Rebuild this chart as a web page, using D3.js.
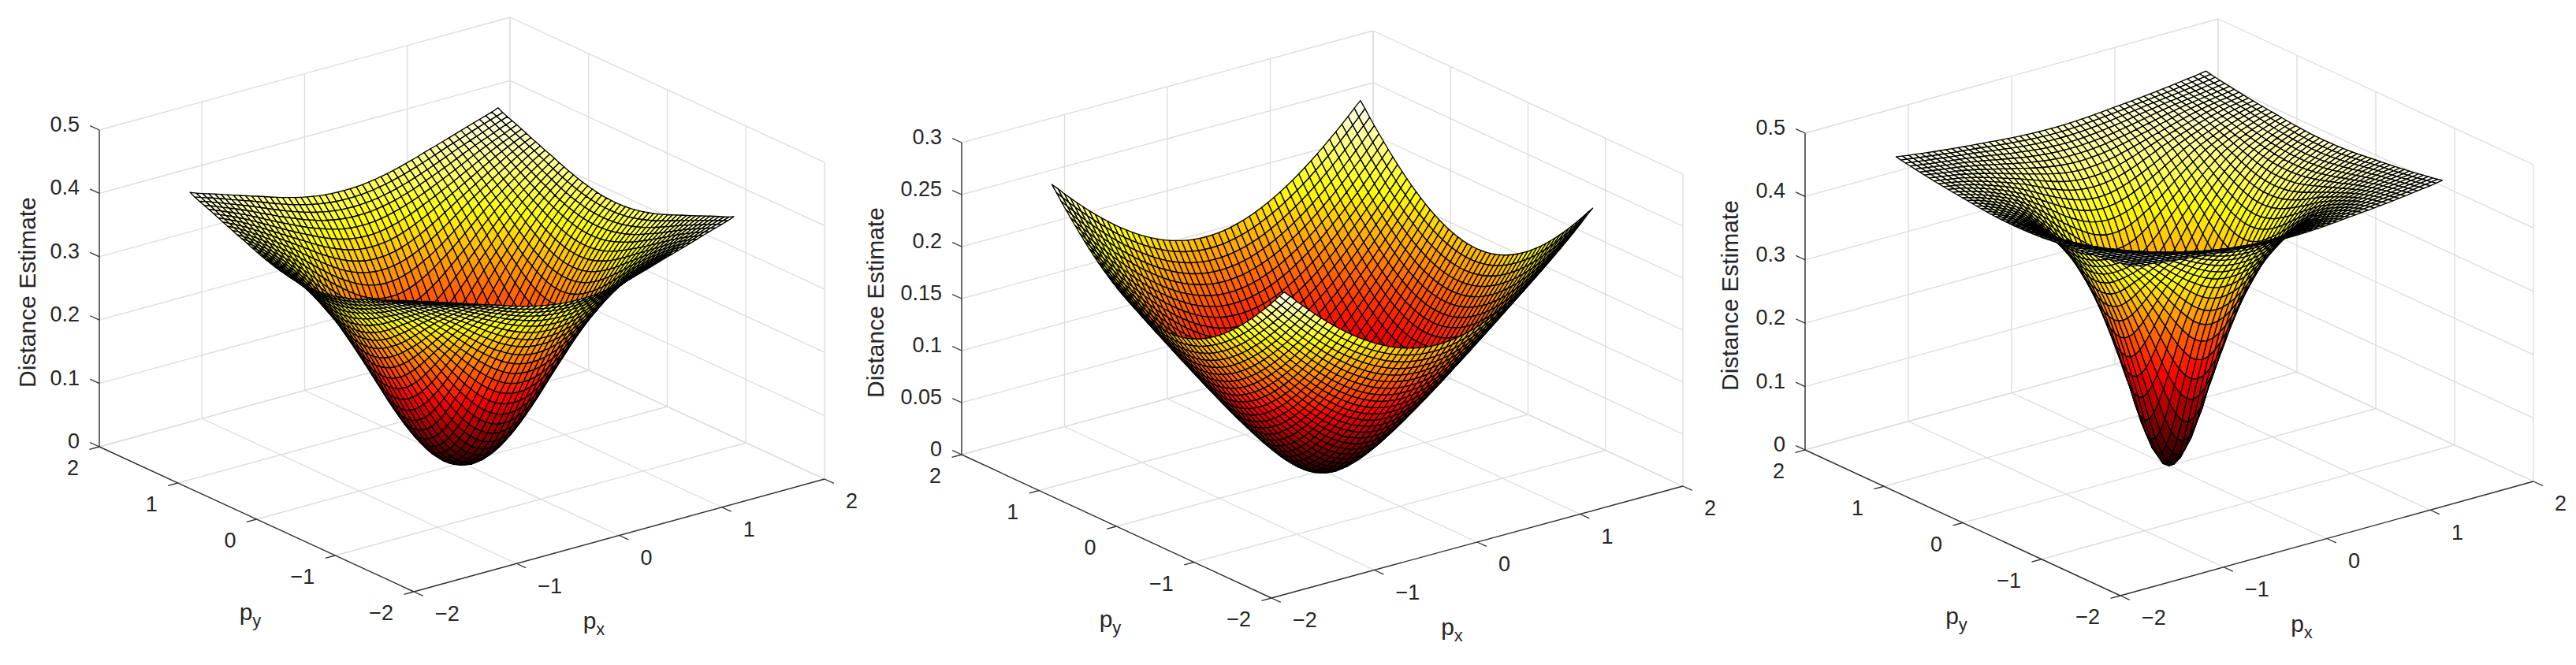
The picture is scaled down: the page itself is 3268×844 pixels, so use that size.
<!DOCTYPE html>
<html><head><meta charset="utf-8">
<style>html,body{margin:0;padding:0;background:#fff}svg{display:block}text{font-family:"Liberation Sans",Arial,sans-serif;fill:#262626}</style>
<script src="https://cdn.jsdelivr.net/npm/d3@7"></script>
</head><body><svg id="c" width="3268" height="844"></svg>
<script>
// Values, in 1/10000 of the z unit, on the 51x51 mesh (-1.5..1.5).
// The three surfaces look symmetric about both axes and both diagonals, so each table holds one octant:
// row j = larger of |i|,|j|, col = smaller, counted in mesh steps from the centre.
const surfaceA=[
[0],[13,28],[50,65,102],[113,127,166,226],[200,213,252,310,399],[310,324,363,422,503,602],
[445,457,491,548,626,728,848],[590,602,638,695,771,868,982,1111],[760,771,805,857,929,1022,1130,1256,1392],
[940,951,982,1033,1102,1190,1294,1410,1538,1672],[1130,1140,1170,1218,1284,1366,1462,1571,1688,1813,1947],
[1330,1340,1366,1410,1470,1546,1633,1733,1842,1960,2085,2211],[1530,1538,1563,1602,1657,1725,1807,1899,2000,2110,2222,2338,2455],
[1725,1733,1754,1791,1842,1906,1981,2064,2157,2256,2358,2465,2564,2667],
[1920,1928,1947,1981,2026,2085,2151,2227,2310,2399,2490,2580,2672,2774,2872],
[2110,2115,2133,2164,2204,2256,2317,2384,2460,2534,2614,2700,2789,2879,2967,3055],
[2290,2295,2310,2338,2373,2419,2474,2529,2594,2664,2741,2819,2900,2980,3061,3142,3215],
[2460,2465,2478,2499,2529,2568,2614,2667,2729,2793,2861,2932,3005,3078,3152,3219,3286,3353],
[2610,2614,2626,2647,2676,2712,2755,2803,2858,2915,2977,3042,3105,3171,3232,3294,3356,3419,3479],
[2760,2764,2774,2793,2819,2852,2889,2932,2980,3032,3086,3144,3199,3255,3311,3369,3425,3482,3540,3595],
[2900,2902,2913,2928,2952,2980,3015,3053,3094,3142,3188,3235,3284,3335,3387,3440,3492,3545,3598,3649,3700],
[3030,3032,3042,3055,3076,3102,3131,3165,3199,3237,3280,3322,3369,3413,3461,3509,3557,3607,3655,3702,3745,3788],
[3150,3152,3159,3171,3188,3209,3232,3262,3293,3327,3367,3408,3445,3487,3531,3575,3620,3665,3708,3750,3790,3828,3866],
[3253,3255,3262,3272,3286,3306,3327,3353,3381,3413,3447,3483,3520,3559,3599,3640,3681,3722,3758,3795,3831,3868,3906,3942],
[3350,3352,3356,3367,3379,3397,3416,3440,3466,3493,3525,3557,3591,3627,3663,3700,3739,3770,3805,3839,3874,3909,3943,3975,4007],
[3440,3442,3447,3455,3467,3483,3501,3522,3545,3571,3599,3628,3660,3693,3725,3754,3786,3818,3850,3882,3916,3947,3978,4008,4040,4080]];
const surfaceB=[
[0],[7,15],[26,34,53],[58,65,84,112],[100,106,124,150,188],[150,156,172,197,232,275],
[207,212,227,252,284,324,372],[270,275,289,312,341,380,424,474],[337,341,355,375,404,440,482,530,582],
[408,412,424,444,471,505,544,589,638,693],[482,486,497,515,540,572,609,652,700,751,807],
[558,562,572,589,612,641,677,718,764,813,866,923],[635,638,649,665,687,715,749,787,830,877,928,983,1040],
[715,718,727,742,764,790,822,858,899,944,993,1045,1102,1160],
[796,799,807,822,841,866,896,931,970,1013,1060,1111,1165,1220,1280],
[877,879,888,902,920,944,973,1006,1043,1085,1131,1178,1230,1284,1342,1401],
[960,962,970,983,1001,1023,1051,1082,1119,1159,1201,1248,1297,1350,1405,1463,1523],
[1043,1045,1053,1065,1082,1104,1131,1160,1194,1232,1273,1318,1367,1417,1471,1527,1585,1645],
[1128,1131,1137,1149,1165,1185,1209,1238,1271,1307,1348,1392,1437,1486,1538,1592,1649,1708,1769],
[1212,1215,1220,1232,1248,1267,1290,1318,1350,1385,1423,1465,1509,1557,1607,1660,1715,1773,1831,1892],
[1297,1299,1306,1316,1331,1350,1373,1399,1429,1463,1500,1540,1583,1629,1678,1729,1782,1838,1895,1954,2015],
[1383,1385,1392,1401,1416,1434,1455,1481,1509,1542,1578,1617,1659,1703,1750,1799,1851,1905,1960,2018,2078,2140],
[1469,1471,1477,1486,1500,1517,1538,1563,1591,1622,1657,1694,1734,1777,1823,1871,1920,1973,2028,2084,2142,2202,2264],
[1555,1557,1563,1572,1585,1602,1622,1645,1672,1703,1736,1773,1811,1853,1897,1943,1992,2043,2096,2151,2208,2266,2327,2389],
[1642,1644,1649,1659,1671,1687,1706,1729,1755,1784,1816,1851,1888,1928,1971,2016,2064,2114,2166,2220,2275,2332,2391,2451,2513],
[1729,1731,1736,1745,1757,1773,1791,1813,1838,1866,1897,1930,1967,2006,2047,2091,2138,2186,2237,2289,2344,2399,2456,2515,2578,2635]];
const surfaceC=[
[0],[60,134],[240,302,456],[500,553,701,924],[830,877,1013,1220,1458],[1220,1256,1360,1519,1716,1943],
[1580,1607,1689,1821,1989,2187,2397],[1920,1943,2012,2125,2268,2430,2607,2784],[2250,2268,2325,2412,2532,2662,2810,2955,3105],
[2550,2566,2607,2677,2771,2879,2999,3124,3257,3381],[2810,2822,2856,2911,2987,3078,3179,3288,3396,3498,3600],
[3040,3051,3078,3124,3187,3264,3345,3436,3520,3609,3702,3793],[3250,3257,3281,3317,3367,3430,3493,3564,3639,3720,3801,3881,3957],
[3430,3436,3453,3481,3520,3570,3625,3686,3754,3825,3894,3963,4029,4094],
[3580,3586,3600,3625,3658,3702,3750,3805,3863,3920,3982,4040,4100,4157,4206],
[3720,3724,3737,3759,3788,3825,3868,3912,3960,4009,4063,4114,4165,4210,4251,4293],
[3850,3853,3863,3881,3904,3934,3969,4006,4049,4096,4138,4188,4220,4257,4295,4327,4362],
[3960,3963,3972,3986,4006,4032,4063,4094,4131,4167,4200,4235,4269,4300,4331,4364,4394,4422],
[4060,4063,4070,4083,4100,4121,4147,4172,4199,4227,4255,4286,4312,4340,4370,4397,4423,4450,4474],
[4150,4152,4157,4167,4179,4196,4214,4235,4257,4281,4309,4328,4354,4381,4404,4428,4454,4475,4495,4516],
[4220,4221,4226,4233,4244,4257,4273,4290,4307,4327,4348,4372,4393,4414,4436,4460,4478,4498,4517,4532,4546],
[4280,4281,4285,4291,4299,4310,4322,4337,4354,4373,4390,4408,4428,4448,4467,4484,4502,4520,4533,4546,4560,4574],
[4330,4331,4335,4340,4348,4358,4370,4384,4396,4411,4427,4444,4462,4477,4492,4509,4524,4536,4549,4561,4575,4588,4602],
[4380,4381,4384,4388,4394,4402,4411,4422,4434,4448,4462,4475,4488,4503,4518,4529,4540,4552,4564,4577,4590,4603,4617,4631],
[4420,4421,4423,4428,4433,4441,4450,4460,4469,4479,4490,4502,4515,4526,4536,4546,4557,4568,4580,4592,4605,4618,4631,4645,4659],
[4460,4461,4462,4465,4470,4475,4481,4489,4498,4507,4518,4526,4535,4544,4553,4563,4574,4585,4596,4608,4620,4633,4646,4659,4673,4690]];

const xyTicks=[-2,-1,0,1,2];
const xyTickLabels=["\u22122","\u22121","0","1","2"];
const zTicksA=[0,0.1,0.2,0.3,0.4,0.5];
const zTicksB=[0,0.05,0.1,0.15,0.2,0.25,0.3];
const zLabelsA=["0","0.1","0.2","0.3","0.4","0.5"];
const zLabelsB=["0","0.05","0.1","0.15","0.2","0.25","0.3"];
const meshStep=0.06, halfCells=25;

const panels=[
 {table:surfaceA,zTicks:zTicksA,zLabels:zLabelsA,left:[126,567],front:[525,751],right:[1046,608],zTop:165,zLabelDx:-88},
 {table:surfaceB,zTicks:zTicksB,zLabels:zLabelsB,left:[1220,577],front:[1613,759],right:[2135,617],zTop:181,zLabelDx:-106},
 {table:surfaceC,zTicks:zTicksA,zLabels:zLabelsA,left:[2290,571],front:[2690,756],right:[3214,611],zTop:169,zLabelDx:-92}
];
const hot=d3.scaleLinear().domain([0,0.365,0.746,1]).range(["#0b0000","#ff0000","#ffff00","#ffffff"]).clamp(true);
const svg=d3.select("#c");
const tickFont=27, labelFont=30;

panels.forEach(P=>{
 const g=svg.append("g");
 const zMax=P.zTicks[P.zTicks.length-1];
 const xX=d3.scaleLinear([-2,2],[0,P.right[0]-P.front[0]]), xY=d3.scaleLinear([-2,2],[0,P.right[1]-P.front[1]]);
 const yX=d3.scaleLinear([-2,2],[0,P.left[0]-P.front[0]]), yY=d3.scaleLinear([-2,2],[0,P.left[1]-P.front[1]]);
 const zY=d3.scaleLinear([0,zMax],[0,P.zTop-P.left[1]]);
 const proj=(x,y,z)=>[P.front[0]+xX(x)+yX(y),P.front[1]+xY(x)+yY(y)+zY(z)];
 const line=(a,b,col,w)=>g.append("line").attr("x1",a[0]).attr("y1",a[1]).attr("x2",b[0]).attr("y2",b[1]).attr("stroke",col).attr("stroke-width",w);
 const gridC="#dcdcdc";
 xyTicks.forEach(t=>{
  line(proj(t,-2,0),proj(t,2,0),gridC,1.3);
  line(proj(-2,t,0),proj(2,t,0),gridC,1.3);
  line(proj(t,2,0),proj(t,2,zMax),gridC,1.3);
  line(proj(2,t,0),proj(2,t,zMax),gridC,1.3);
 });
 P.zTicks.forEach(z=>{
  line(proj(-2,2,z),proj(2,2,z),gridC,1.3);
  line(proj(2,2,z),proj(2,-2,z),gridC,1.3);
 });
 // surface
 const zAt=(i,j)=>{const a=Math.abs(i),b=Math.abs(j);return P.table[Math.max(a,b)][Math.min(a,b)]/10000;};
 const zPeak=d3.max(P.table.flat())/10000;
 const quads=[];
 for(let i=halfCells-1;i>=-halfCells;i--)for(let j=halfCells-1;j>=-halfCells;j--){
  const c=[[i,j],[i+1,j],[i+1,j+1],[i,j+1]];
  quads.push({pts:c.map(([a,b])=>proj(a*meshStep,b*meshStep,zAt(a,b))),
              z:d3.mean(c,([a,b])=>zAt(a,b))});
 }
 g.append("g").selectAll("path").data(quads).join("path")
  .attr("d",d=>"M"+d.pts.map(p=>p[0].toFixed(2)+","+p[1].toFixed(2)).join("L")+"Z")
  .attr("fill",d=>hot(d.z/zPeak)).attr("stroke","#000").attr("stroke-width",1.35).attr("stroke-linejoin","round");
 // axes
 const axC="#333";
 line(P.left,[P.left[0],P.zTop],axC,1.4);
 line(P.left,P.front,axC,1.4);
 line(P.front,P.right,axC,1.4);
 const tk=13/Math.hypot(P.left[0]-P.front[0],P.left[1]-P.front[1])*4, tkx=13/Math.hypot(P.right[0]-P.front[0],P.right[1]-P.front[1])*4;
 P.zTicks.forEach((z,i)=>{
  const a=proj(-2,2,z);
  line(a,proj(-2,2+tk,z),axC,1.3);
  g.append("text").attr("x",a[0]-25).attr("y",a[1]-7.5).attr("dy","0.35em").attr("text-anchor","end").attr("font-size",tickFont).text(P.zLabels[i]);
 });
 xyTicks.forEach((t,i)=>{
  const a=proj(-2,t,0), b=proj(t,-2,0);
  line(a,proj(-2-tkx,t,0),axC,1.3);
  line(b,proj(t,-2-tk,0),axC,1.3);
  g.append("text").attr("x",a[0]-26).attr("y",a[1]+27).attr("dy","0.35em").attr("text-anchor","end").attr("font-size",tickFont).text(xyTickLabels[i]);
  g.append("text").attr("x",b[0]+27).attr("y",b[1]+28).attr("dy","0.35em").attr("text-anchor","start").attr("font-size",tickFont).text(xyTickLabels[i]);
 });
 // axis labels
 const my=proj(-2,0,0), mx=proj(0,-2,0);
 const sub=(x,y,s)=>{const t=g.append("text").attr("x",x).attr("y",y).attr("text-anchor","middle").attr("font-size",labelFont);
  t.append("tspan").text("p"); t.append("tspan").attr("font-size",22).attr("dy",8).text(s);};
 sub(my[0]-8,my[1]+128,"y");
 sub(mx[0]-32,mx[1]+118,"x");
 g.append("text").attr("transform",`translate(${P.left[0]+P.zLabelDx+7},${(P.left[1]+P.zTop)/2+5}) rotate(-90)`)
  .attr("text-anchor","middle").attr("font-size",labelFont).text("Distance Estimate");
});
</script></body></html>
